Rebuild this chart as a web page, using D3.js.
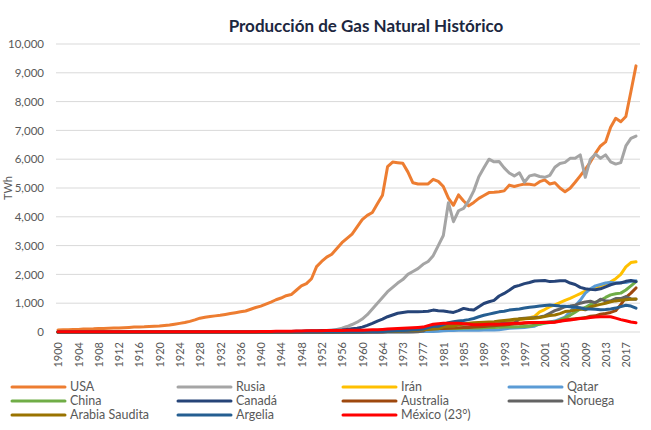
<!DOCTYPE html>
<html><head><meta charset="utf-8">
<script src="https://cdn.jsdelivr.net/npm/d3@7"></script>
<style>body{margin:0;background:#fff;}svg{display:block;font-family:Lato,"Open Sans",sans-serif;}</style>
</head><body><svg id="c" width="651" height="430"></svg>
<script>
const years = [1900,1901,1902,1903,1904,1905,1906,1907,1908,1909,1910,1911,1912,1913,1914,1915,1916,1917,1918,1919,
1920,1921,1922,1923,1924,1925,1926,1927,1928,1929,1930,1931,1932,1933,1934,1935,1936,1937,1938,1939,
1940,1941,1942,1943,1944,1945,1946,1947,1948,1949,1950,1951,1952,1953,1954,1955,1956,1957,1958,1959,
1960,1961,1962,1963,1964,1970,1971,1972,1973,1974,1975,1976,1977,1978,1979,1980,1981,1982,1983,1984,
1985,1986,1987,1988,1989,1990,1991,1992,1993,1994,1995,1996,1997,1998,1999,2000,2001,2002,2003,2004,
2005,2006,2007,2008,2009,2010,2011,2012,2013,2014,2015,2016,2017,2018,2019];
const tickLabels = ["1900","1904","1908","1912","1916","1920","1924","1928","1932","1936","1940","1944","1948","1952","1956","1960","1964","1973","1977","1981","1985","1989","1993","1997","2001","2005","2009","2013","2017"];
const yTicks = [0,1000,2000,3000,4000,5000,6000,7000,8000,9000,10000];

const usa = [70,75,80,85,90,100,105,110,120,125,130,135,140,150,160,170,175,180,190,200,
210,225,240,270,300,330,370,420,480,510,540,560,580,610,640,670,700,730,790,850,
900,970,1040,1120,1180,1260,1300,1450,1600,1680,1850,2270,2450,2600,2700,2900,3100,3250,3400,3650,
3900,4050,4150,4450,4750,5740,5900,5880,5860,5560,5180,5140,5140,5140,5300,5230,5050,4650,4400,4760,
4550,4380,4500,4640,4740,4840,4850,4870,4900,5100,5050,5100,5140,5130,5100,5220,5280,5140,5180,5000,
4870,4990,5200,5420,5650,5900,6200,6460,6600,7110,7420,7300,7480,8350,9240];
const rusia = [0,0,0,0,0,0,0,0,0,0,0,0,0,0,0,0,0,0,0,0,
0,0,0,0,0,0,0,0,0,0,0,0,0,0,0,0,0,0,0,0,
5,5,5,5,5,10,10,10,10,10,15,20,25,40,50,90,130,190,260,340,
450,600,800,1000,1200,1400,1550,1700,1820,2000,2100,2200,2350,2450,2650,3000,3350,4490,3830,4210,
4290,4550,4900,5390,5700,6000,5910,5920,5700,5520,5420,5530,5200,5420,5460,5400,5370,5440,5720,5850,
5890,6030,6030,6150,5370,6000,6180,6030,6150,5910,5830,5880,6460,6720,6800];
const iran = [0,0,0,0,0,0,0,0,0,0,0,0,0,0,0,0,0,0,0,0,
0,0,0,0,0,0,0,0,0,0,0,0,0,0,0,0,0,0,0,0,
0,0,0,0,0,0,0,0,0,0,0,0,0,0,0,5,5,10,10,15,
20,20,25,30,35,40,50,60,70,80,90,100,110,120,130,100,60,70,80,90,
100,110,120,150,180,230,260,300,330,360,380,420,460,500,540,700,780,880,940,1020,
1100,1170,1250,1330,1420,1480,1540,1600,1660,1740,1850,2000,2260,2410,2440];
const qatar = [0,0,0,0,0,0,0,0,0,0,0,0,0,0,0,0,0,0,0,0,
0,0,0,0,0,0,0,0,0,0,0,0,0,0,0,0,0,0,0,0,
0,0,0,0,0,0,0,0,0,0,0,0,0,0,0,0,0,0,0,0,
0,0,0,0,0,5,5,10,10,10,15,15,15,20,20,30,40,50,50,60,
60,60,60,60,70,70,70,80,100,130,140,150,160,180,200,280,320,350,380,450,
520,700,900,1100,1350,1500,1600,1650,1700,1720,1700,1720,1720,1760,1780];
const china = [0,0,0,0,0,0,0,0,0,0,0,0,0,0,0,0,0,0,0,0,
0,0,0,0,0,0,0,0,0,0,0,0,0,0,0,0,0,0,0,0,
0,0,0,0,0,0,0,0,0,0,0,0,0,0,0,5,10,20,30,40,
50,40,30,30,30,30,40,50,60,70,80,90,110,130,140,140,130,120,120,125,
130,140,140,140,150,155,160,165,170,170,175,180,190,200,240,270,300,330,350,410,
490,580,690,800,850,950,1040,1100,1200,1290,1330,1350,1460,1600,1750];
const canada = [5,5,5,5,5,5,5,5,5,5,5,5,5,5,5,5,5,5,5,5,
5,5,5,5,5,5,5,5,5,5,5,5,5,5,5,5,5,5,5,5,
10,10,15,15,15,20,20,25,30,35,40,45,50,55,60,65,70,90,110,130,
170,230,300,380,450,530,590,650,680,700,700,705,710,720,760,740,730,700,680,740,
820,780,760,880,990,1050,1100,1250,1340,1450,1570,1620,1680,1720,1770,1780,1790,1750,1760,1780,
1780,1700,1650,1550,1500,1480,1470,1500,1570,1640,1690,1700,1760,1790,1750];
const australia = [0,0,0,0,0,0,0,0,0,0,0,0,0,0,0,0,0,0,0,0,
0,0,0,0,0,0,0,0,0,0,0,0,0,0,0,0,0,0,0,0,
0,0,0,0,0,0,0,0,0,0,0,0,0,0,0,0,0,0,0,0,
0,0,0,0,0,20,30,40,50,60,70,80,90,100,110,120,120,130,140,150,
160,160,170,180,190,210,220,230,240,260,280,290,300,310,320,330,340,350,360,380,
420,440,460,480,500,550,560,620,640,680,740,950,1200,1350,1530];
const noruega = [0,0,0,0,0,0,0,0,0,0,0,0,0,0,0,0,0,0,0,0,
0,0,0,0,0,0,0,0,0,0,0,0,0,0,0,0,0,0,0,0,
0,0,0,0,0,0,0,0,0,0,0,0,0,0,0,0,0,0,0,0,
0,0,0,0,0,0,0,0,0,0,0,5,30,150,230,250,260,250,250,270,
280,280,290,300,300,280,280,290,300,310,310,460,480,490,500,520,560,650,740,800,
880,900,930,1000,1040,1070,1010,1140,1080,1080,1160,1160,1230,1150,1140];
const arabia = [0,0,0,0,0,0,0,0,0,0,0,0,0,0,0,0,0,0,0,0,
0,0,0,0,0,0,0,0,0,0,0,0,0,0,0,0,0,0,0,0,
0,0,0,0,0,0,0,0,0,0,0,0,0,0,0,0,0,0,0,0,
10,10,15,15,20,20,25,30,40,50,60,70,80,90,100,110,180,200,200,250,
280,300,320,330,340,350,360,380,400,420,440,450,460,470,480,500,540,570,590,640,
710,730,760,800,770,870,920,960,1000,1050,1080,1100,1120,1140,1150];
const argelia = [0,0,0,0,0,0,0,0,0,0,0,0,0,0,0,0,0,0,0,0,
0,0,0,0,0,0,0,0,0,0,0,0,0,0,0,0,0,0,0,0,
0,0,0,0,0,0,0,0,0,0,0,0,0,0,0,0,0,0,0,0,
0,5,5,10,15,30,35,40,50,60,80,90,100,150,200,200,260,320,360,380,
400,430,470,530,580,620,660,700,720,760,780,800,830,860,880,900,920,940,920,900,
890,880,860,840,800,800,790,770,780,800,830,880,930,900,830];
const mexico = [5,5,5,5,5,5,5,5,5,5,5,5,5,5,5,5,5,5,5,5,
5,5,5,5,5,5,5,5,5,5,10,10,10,10,10,10,10,10,10,10,
15,20,20,25,25,30,30,35,35,40,40,45,45,50,50,55,55,60,60,65,
65,70,75,80,90,100,110,120,130,140,150,160,170,220,270,290,300,300,300,300,
290,270,250,250,260,270,270,270,280,290,300,300,320,330,330,330,330,330,340,370,
400,420,440,470,480,500,520,530,530,530,480,430,390,350,320];

const seriesNames = ["USA","Rusia","Irán","Qatar","China","Canadá","Australia","Noruega","Arabia Saudita","Argelia","México (23°)"];
const seriesValues = [usa,rusia,iran,qatar,china,canada,australia,noruega,arabia,argelia,mexico];
const seriesColors = ["#ED7D31","#A5A5A5","#FFC000","#5B9BD5","#70AD47","#264478","#9E480E","#636363","#997300","#255E91","#FF0000"];
const legendOrder = ["USA","Rusia","Irán","Qatar","China","Canadá","Australia","Noruega","Arabia Saudita","Argelia","México (23°)"];

const svg = d3.select("#c");
const x = d3.scalePoint().domain(years.map(String)).range([58, 636]);
const y = d3.scaleLinear().domain([0, 10000]).range([332, 44]);

svg.append("g").selectAll("line").data(yTicks).join("line")
  .attr("x1", 56).attr("x2", 640)
  .attr("y1", d => y(d)).attr("y2", d => y(d))
  .attr("stroke", "#D9D9D9").attr("stroke-width", 1);

const yAxis = d3.axisLeft(y).tickValues(yTicks).tickFormat(d3.format(",")).tickSize(0).tickPadding(0);
const gy = svg.append("g").attr("transform", "translate(44,0)").call(yAxis);
gy.select(".domain").remove();
gy.selectAll("text").attr("fill", "#595959").style("font-size", "11.5px").style("font-family", "Lato,'Open Sans',sans-serif");

const xAxis = d3.axisBottom(x).tickValues(tickLabels).tickSize(0).tickPadding(0);
const gx = svg.append("g").attr("transform", "translate(0,332)").call(xAxis);
gx.select(".domain").remove();
gx.selectAll("text")
  .attr("transform", "rotate(-90)")
  .attr("x", -10).attr("y", 0).attr("dy", "0.35em")
  .attr("text-anchor", "end")
  .attr("fill", "#595959").style("font-size", "11px").style("font-family", "Lato,'Open Sans',sans-serif");

svg.append("text").attr("transform", "translate(12,188) rotate(-90)")
  .attr("text-anchor", "middle").attr("fill", "#595959").style("font-size", "11px").text("TWh");

svg.append("text").attr("x", 366).attr("y", 32).attr("text-anchor", "middle")
  .attr("fill", "#1C2740").style("font-size", "17px").style("font-weight", "bold")
  .text("Producción de Gas Natural Histórico");

const line = d3.line().x((d, i) => x(String(years[i]))).y(d => y(d));
svg.append("g").selectAll("path").data(seriesValues).join("path")
  .attr("d", d => line(d))
  .attr("fill", "none")
  .attr("stroke", (d, i) => seriesColors[i])
  .attr("stroke-width", 3)
  .attr("stroke-linejoin", "round").attr("stroke-linecap", "round");

const colX = [12, 178, 343, 509];
const rowY = [387, 401, 415];
const lg = svg.append("g").selectAll("g").data(legendOrder).join("g")
  .attr("transform", (d, i) => `translate(${colX[i % 4]},${rowY[Math.floor(i / 4)]})`);
lg.append("line").attr("x1", 0).attr("x2", 53).attr("y1", 0).attr("y2", 0)
  .attr("stroke", d => seriesColors[seriesNames.indexOf(d)]).attr("stroke-width", 3).attr("stroke-linecap", "round");
lg.append("text").attr("x", 58).attr("y", 0).attr("dy", "0.35em")
  .attr("fill", "#595959").style("font-size", "12.5px").text(d => d);
</script></body></html>
